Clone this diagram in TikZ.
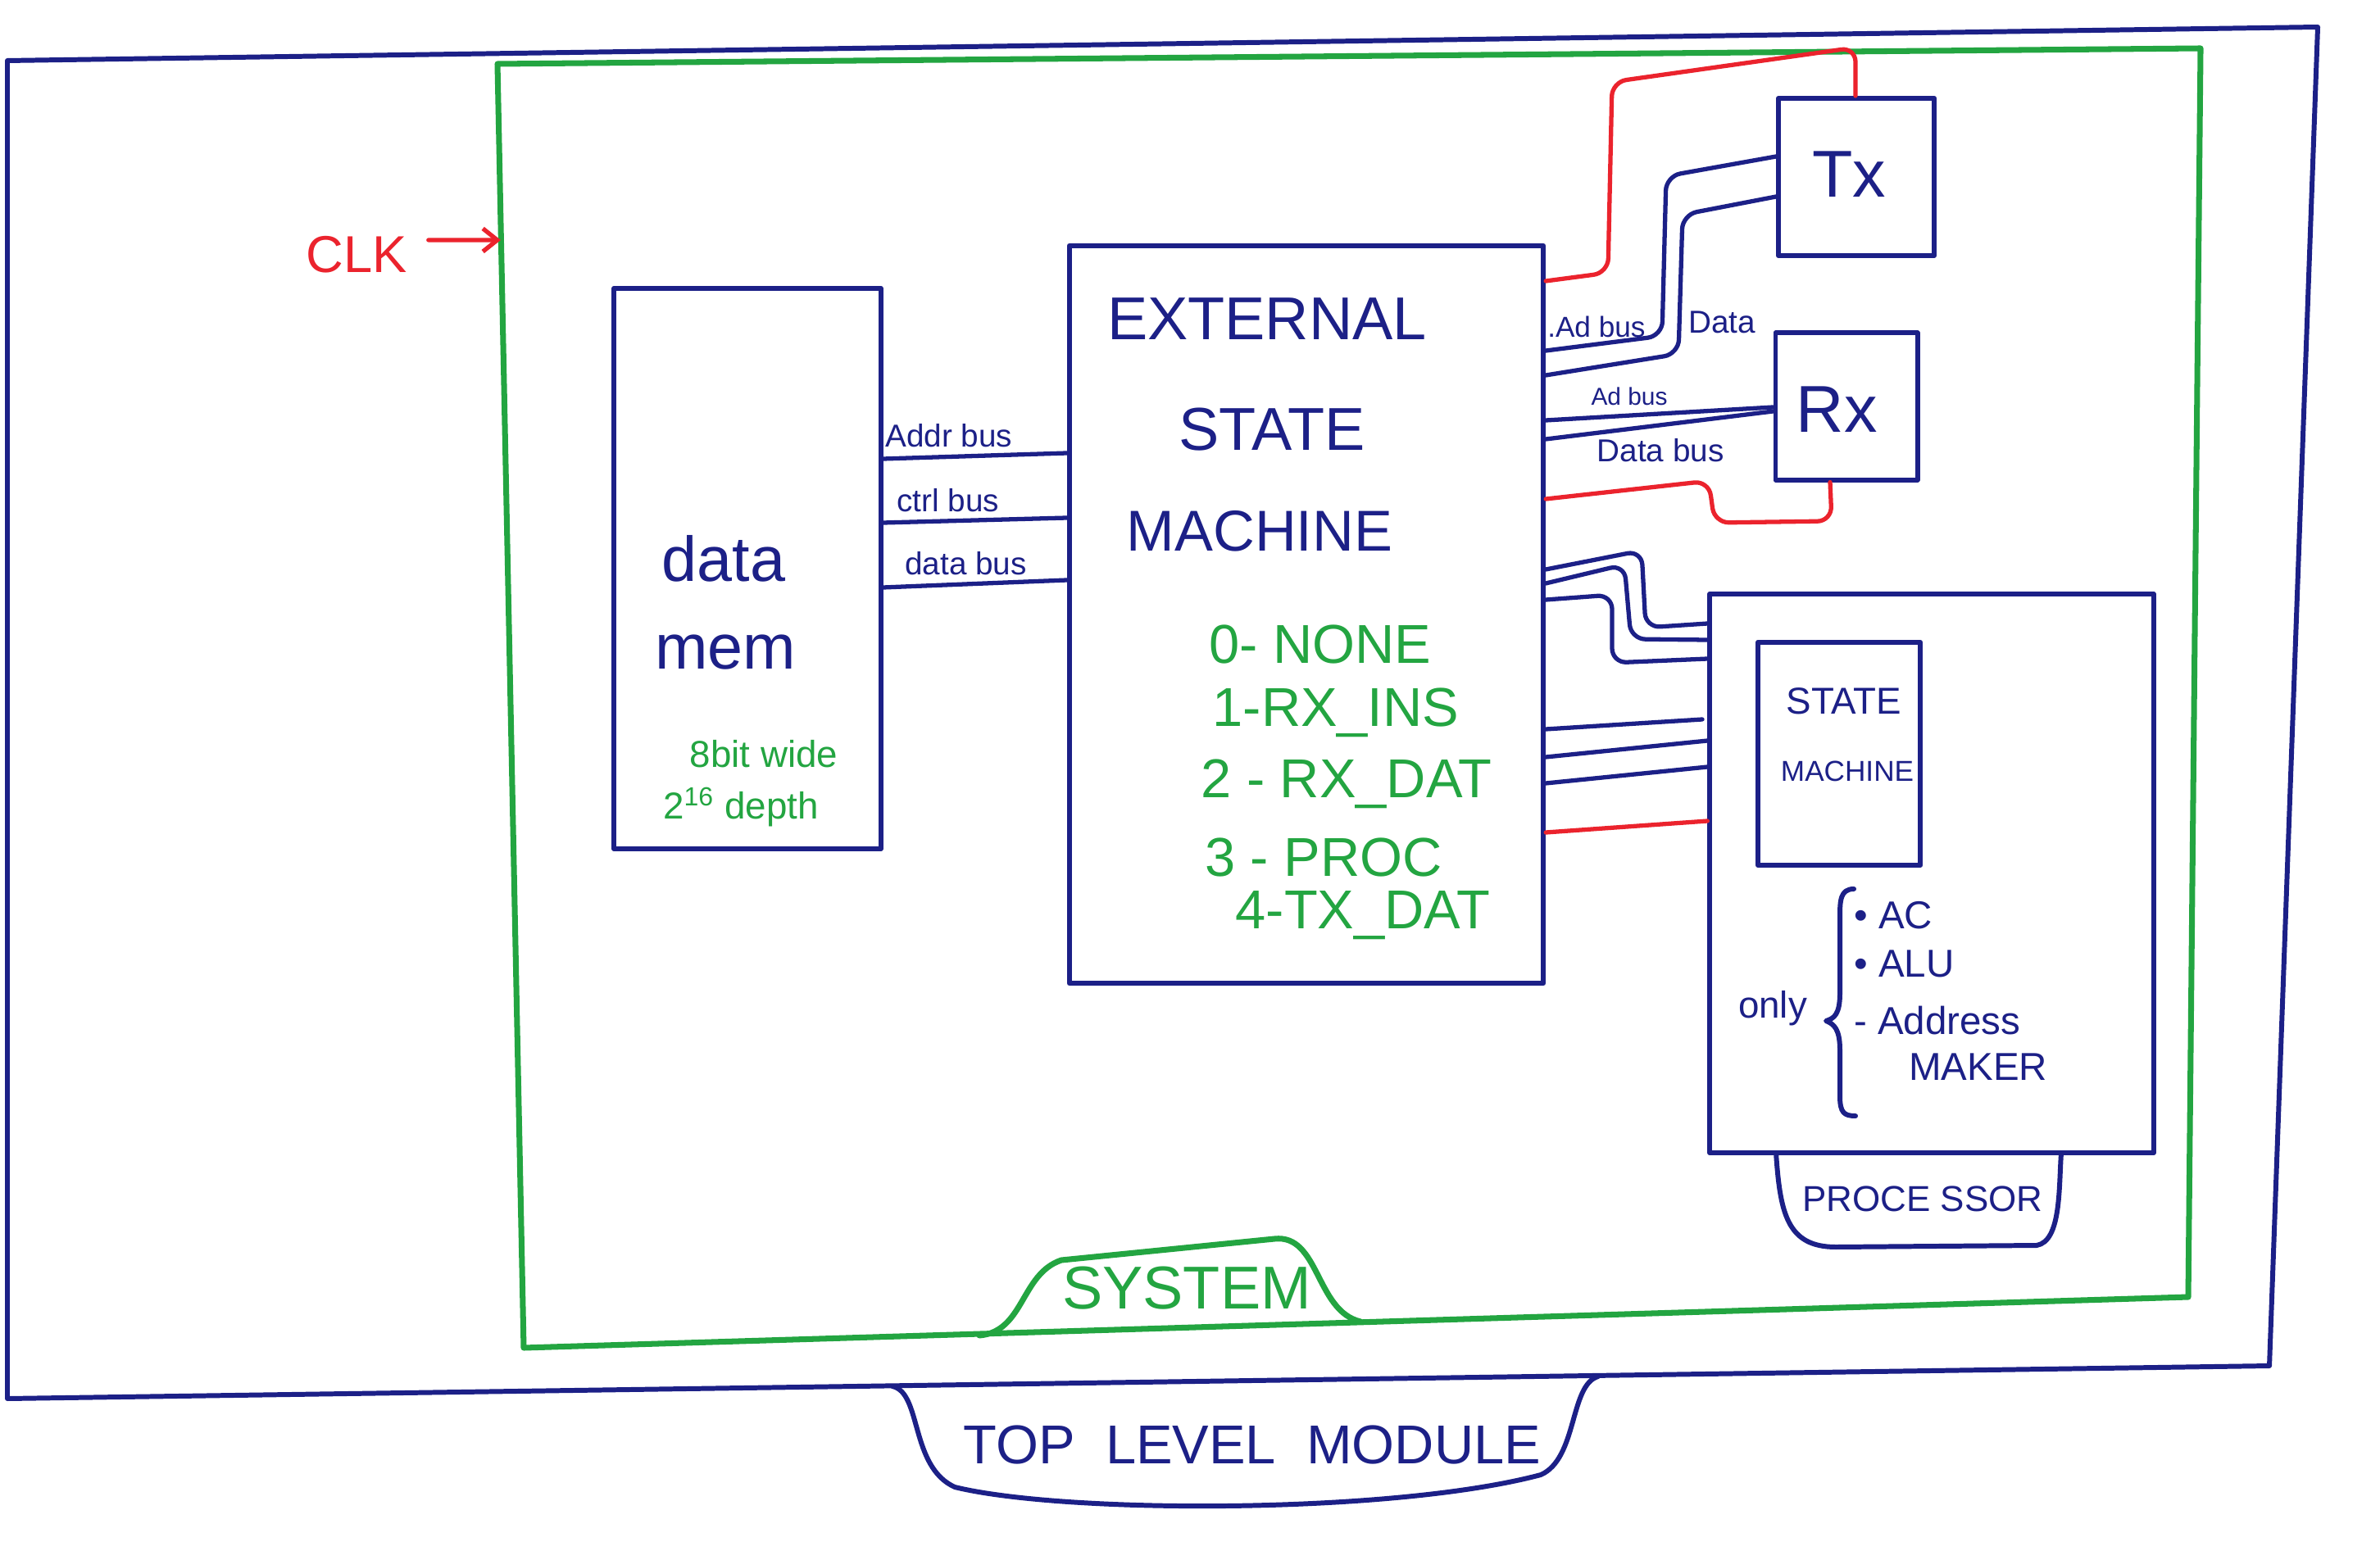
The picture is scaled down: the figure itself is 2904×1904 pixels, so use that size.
\documentclass[tikz,border=0pt]{standalone}
\usepackage{fontspec}
\setmainfont{Liberation Sans}
\usetikzlibrary{arrows.meta}
\definecolor{penblue}{RGB}{28,32,135}
\definecolor{pengreen}{RGB}{35,165,65}
\definecolor{penred}{RGB}{235,35,45}
\newcommand\penfs[1]{\fontsize{#1}{#1}\selectfont}
\begin{document}
\begin{tikzpicture}[x=0.01cm,y=-0.01cm, line join=round, line cap=round,
  bluepen/.style={draw=penblue, line width=1.7pt},
  greenpen/.style={draw=pengreen, line width=2pt},
  redpen/.style={draw=penred, line width=1.5pt},
  wire/.style={draw=penblue, line width=1.5pt, rounded corners=5pt},
  redwire/.style={draw=penred, line width=1.5pt, rounded corners=5pt},
  box/.style={draw=penblue, line width=1.7pt, rectangle, inner sep=0pt},
  lbl/.style={text=penblue, inner sep=1pt},
  glbl/.style={text=pengreen, inner sep=1pt},
  rlbl/.style={text=penred, inner sep=1pt},
]
\useasboundingbox (0,0) rectangle (2904,1904);
\fill[white] (0,0) rectangle (2904,1904);

% frames
\draw[bluepen] (9,74) -- (2828,33) -- (2769,1667) -- (9,1707) -- cycle;
\draw[greenpen] (607,78) -- (2685,59) -- (2670,1583) -- (639,1645) -- cycle;

% SYSTEM tab
\draw[greenpen] (1195,1630) .. controls (1250,1625) and (1245,1555) .. (1295,1538)
  -- (1555,1512) .. controls (1610,1506) and (1605,1600) .. (1660,1613);
\node[glbl, font=\penfs{21pt}] (systxt) at (1448,1572) {SYSTEM};

% TOP LEVEL MODULE tab
\draw[bluepen] (1089,1692) .. controls (1125,1700) and (1110,1790) .. (1165,1815)
  .. controls (1300,1848) and (1700,1848) .. (1880,1800)
  .. controls (1925,1780) and (1915,1690) .. (1950,1680);
\node[lbl, font=\penfs{19pt}] (toptxt) at (1528,1763) {TOP\ \ LEVEL\ \ MODULE};

% CLK
\node[rlbl, font=\penfs{18pt}] (clk) at (435,311) {CLK};
\coordinate (clkin) at (611,293);
\draw[redpen, -{Straight Barb[length=5pt,width=8pt]}] ([xshift=0.22cm,yshift=0.18cm]clk.east) -- (clkin);

% data memory
\node[box, minimum width=3.25cm, minimum height=6.84cm] (mem) at (912,694) {};
\node[lbl, font=\penfs{22pt}] (memt1) at (883,682) {data};
\node[lbl, font=\penfs{22pt}] (memt2) at (885,796) {mem};
\node[glbl, font=\penfs{13pt}] (memw) at (932,920) {8bit wide};
\node[glbl, font=\penfs{13pt}] (memd) at (904,985) {2\textsuperscript{16} depth};

% external state machine
\node[box, minimum width=5.78cm, minimum height=9cm] (esm) at (1594,750) {};
\node[lbl, font=\penfs{21pt}] (esm1) at (1546,389) {EXTERNAL};
\node[lbl, font=\penfs{21pt}] (esm2) at (1552,524) {STATE};
\node[lbl, font=\penfs{20pt}] (esm3) at (1537,648) {MACHINE};
\node[glbl, font=\penfs{19pt}] (st0) at (1611,787) {0- NONE};
\node[glbl, font=\penfs{19pt}] (st1) at (1630,870) {1-RX\_INS};
\node[glbl, font=\penfs{19pt}] (st2) at (1643,957) {2 - RX\_DAT};
\node[glbl, font=\penfs{19pt}] (st3) at (1615,1046) {3 - PROC};
\node[glbl, font=\penfs{19pt}] (st4) at (1663,1117) {4-TX\_DAT};

% memory buses
\draw[wire] (mem.east |- 0,560) -- (esm.west |- 0,553);
\draw[wire] (mem.east |- 0,638) -- (esm.west |- 0,632);
\draw[wire] (mem.east |- 0,717) -- (esm.west |- 0,708);
\node[lbl, font=\penfs{11pt}, anchor=south west] (addrl) at (1076,550) {Addr bus};
\node[lbl, font=\penfs{11pt}, anchor=south west] (ctrll) at (1090,629) {ctrl bus};
\node[lbl, font=\penfs{11pt}, anchor=south west] (datal) at (1100,706) {data bus};

% Tx and Rx
\node[box, minimum width=1.9cm, minimum height=1.92cm] (tx) at (2265,216) {};
\node[lbl, font=\penfs{23pt}] (txt) at (2256,213) {Tx};
\node[box, minimum width=1.73cm, minimum height=1.79cm] (rx) at (2253,496) {};
\node[lbl, font=\penfs{23pt}] (rxt) at (2241,500) {Rx};

\draw[redwire] (esm.east |- 0,343) -- (1962,333) -- (1967,100) -- (2264,58) -- (tx.north -| 2264,0);
\draw[wire] (esm.east |- 0,428) -- (2028,410) -- (2033,215) -- (tx.west |- 0,191);
\draw[wire] (esm.east |- 0,458) -- (2048,432) -- (2053,262) -- (tx.west |- 0,240);
\node[lbl, font=\penfs{10pt}, anchor=south west] (txad) at (1884,416) {.Ad bus};
\node[lbl, font=\penfs{11pt}, anchor=west] (txdata) at (2056,393) {Data};

\draw[wire] (esm.east |- 0,513) -- (rx.west |- 0,497);
\draw[wire] (esm.east |- 0,536) -- (rx.west |- 0,502);
\draw[redwire] (esm.east |- 0,609) -- (2085,587) -- (2092,638) -- (2235,636) -- (rx.south -| 2233,0);
\node[lbl, font=\penfs{8.5pt}] (rxad) at (1988,484) {Ad bus};
\node[lbl, font=\penfs{11pt}] (rxdata) at (2026,550) {Data bus};

% processor
\node[box, minimum width=5.41cm, minimum height=6.82cm] (proc) at (2357,1066) {};
\node[box, minimum width=1.98cm, minimum height=2.72cm] (sm) at (2244,920) {};
\node[lbl, font=\penfs{13pt}] (smt1) at (2250,856) {STATE};
\node[lbl, font=\penfs{10pt}] (smt2) at (2254,941) {MACHINE};

\draw[bluepen] (2167,1407) .. controls (2172,1480) and (2180,1522) .. (2240,1522)
  -- (2485,1520) .. controls (2515,1515) and (2512,1450) .. (2515,1407);
\node[lbl, font=\penfs{12.5pt}] (proct) at (2346,1463) {PROCE SSOR};

\draw[bluepen] (2262,1085) .. controls (2245,1085) and (2245,1100) .. (2245,1120)
  -- (2245,1212) .. controls (2245,1238) and (2238,1243) .. (2228,1246)
  .. controls (2238,1250) and (2245,1256) .. (2245,1282)
  -- (2245,1338) .. controls (2245,1358) and (2250,1362) .. (2264,1362);
\node[lbl, font=\penfs{13pt}] (only) at (2163,1231) {only};
\node[lbl, font=\penfs{13.5pt}, anchor=west] (ac) at (2258,1117) {\textbullet\ AC};
\node[lbl, font=\penfs{13.5pt}, anchor=west] (alu) at (2258,1176) {\textbullet\ ALU};
\node[lbl, font=\penfs{13.5pt}, anchor=west] (addrm) at (2258,1246) {- Address};
\node[lbl, font=\penfs{13.5pt}, anchor=west] (maker) at (2325,1302) {MAKER};

% ESM to processor wires
\draw[wire] (esm.east |- 0,695) -- (2003,672) -- (2008,766) -- (proc.west |- 0,761);
\draw[wire] (esm.east |- 0,712) -- (1982,689) -- (1990,780) -- (proc.west |- 0,781);
\draw[wire] (esm.east |- 0,732) -- (1967,726) -- (1967,809) -- (proc.west |- 0,804);
\coordinate (w4end) at (2077,878);
\draw[wire] (esm.east |- 0,890) -- (w4end);
\draw[wire] (esm.east |- 0,924) -- (proc.west |- 0,904);
\draw[wire] (esm.east |- 0,956) -- (proc.west |- 0,936);
\draw[redwire] (esm.east |- 0,1016) -- (proc.west |- 0,1002);
\end{tikzpicture}
\end{document}
